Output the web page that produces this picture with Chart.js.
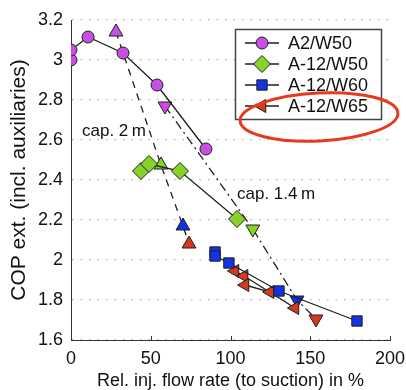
<!DOCTYPE html>
<html>
<head>
<meta charset="utf-8">
<script src="https://cdn.jsdelivr.net/npm/chart.js@4/dist/chart.umd.min.js"></script>
<style>
  body { margin: 0; background: #fff; }
</style>
</head>
<body>
<canvas id="copChart" width="406" height="390"></canvas>
<script>
// valores
const xTicks = [0, 50, 100, 150, 200];
const yTicks = [1.6, 1.8, 2, 2.2, 2.4, 2.6, 2.8, 3, 3.2];

const a2w50X = [0, 0, 10.7, 32.6, 53.9, 84.6];
const a2w50Y = [3.0, 3.05, 3.115, 3.035, 2.875, 2.555];

const a12w50X = [43.9, 48.9, 68.3, 104.1];
const a12w50Y = [2.445, 2.48, 2.445, 2.205];

const a12w60X = [90.3, 90.3, 99, 130.4, 179.3];
const a12w60Y = [2.04, 2.02, 1.985, 1.845, 1.695];

const a12w65X = [102.8, 108.5, 140.4, 124.8, 109.1];
const a12w65Y = [1.945, 1.92, 1.76, 1.84, 1.875];

// capillary 2 m (triangulos arriba) y 1.4 m (triangulos abajo)
const cap2X = [28.2, 56.4, 70.2, 74];
const cap2Y = [3.14, 2.475, 2.17, 2.08];
const cap14X = [58.9, 114, 141.7, 153.6];
const cap14Y = [2.77, 2.155, 1.8, 1.705];

const purple = '#c84fe2';
const green = '#86d42a';
const blue = '#1232e6';
const red = '#d53a1c';
const edge = '#1e1e1e';
const fontName = '"Liberation Sans", Arial, sans-serif';

function pts(xs, ys) {
  return xs.map((x, i) => ({ x: x, y: ys[i] }));
}

function serie(label, xs, ys, color, style, radius, rotation) {
  return {
    label: label,
    data: pts(xs, ys),
    showLine: true,
    borderColor: edge,
    borderWidth: 1.3,
    pointStyle: style,
    pointRadius: radius,
    pointRotation: rotation,
    pointBackgroundColor: color,
    pointBorderColor: edge,
    pointBorderWidth: 1
  };
}

const datasets = [
  serie('A2/W50', a2w50X, a2w50Y, purple, 'circle', 6, 0),
  serie('A-12/W50', a12w50X, a12w50Y, green, 'rectRot', 8.5, 0),
  serie('A-12/W60', a12w60X, a12w60Y, blue, 'rect', 7.3, 0),
  serie('A-12/W65', a12w65X, a12w65Y, red, 'triangle', 7.5, 270),
  {
    label: 'cap. 2 m',
    data: pts(cap2X, cap2Y),
    showLine: true,
    borderColor: edge,
    borderWidth: 1.3,
    borderDash: [7, 6],
    pointStyle: 'triangle',
    pointRadius: 8,
    pointBackgroundColor: [purple, green, blue, red],
    pointBorderColor: edge,
    pointBorderWidth: 1
  },
  {
    label: 'cap. 1.4 m',
    data: pts(cap14X, cap14Y),
    showLine: true,
    borderColor: edge,
    borderWidth: 1.3,
    borderDash: [9, 4, 2, 4],
    pointStyle: 'triangle',
    pointRotation: 180,
    pointRadius: 8,
    pointBackgroundColor: [purple, green, blue, red],
    pointBorderColor: edge,
    pointBorderWidth: 1
  }
];

// leyenda, textos y elipse roja
const extras = {
  id: 'extras',
  afterDraw(chart) {
    const ctx = chart.ctx;
    const xs = chart.scales.x;
    const ys = chart.scales.y;
    ctx.save();

    // ticks hacia dentro en el eje x
    ctx.strokeStyle = '#333';
    ctx.lineWidth = 1;
    xTicks.forEach(v => {
      const px = Math.round(xs.getPixelForValue(v)) + 0.5;
      ctx.beginPath();
      ctx.moveTo(px, ys.bottom);
      ctx.lineTo(px, ys.bottom - 4);
      ctx.stroke();
    });

    // etiquetas cap.
    ctx.fillStyle = '#111';
    ctx.font = '17px ' + fontName;
    ctx.textBaseline = 'middle';
    ctx.textAlign = 'left';
    ctx.fillText('cap. 2\u2009m', 82, 131);
    ctx.fillText('cap. 1.4\u2009m', 237, 194);

    // leyenda
    ctx.fillStyle = '#fff';
    ctx.fillRect(235.5, 29.5, 146, 90);
    ctx.strokeStyle = '#444';
    ctx.lineWidth = 1.5;
    ctx.strokeRect(235.5, 29.5, 146, 90);
    ctx.font = '18px ' + fontName;
    for (let i = 0; i < 4; i++) {
      const ds = datasets[i];
      const y = 43 + i * 21;
      ctx.strokeStyle = edge;
      ctx.lineWidth = 1.3;
      ctx.beginPath();
      ctx.moveTo(245, y);
      ctx.lineTo(279, y);
      ctx.stroke();
      ctx.fillStyle = ds.pointBackgroundColor;
      ctx.lineWidth = 1;
      Chart.helpers.drawPoint(ctx, {
        pointStyle: ds.pointStyle,
        radius: ds.pointRadius,
        rotation: ds.pointRotation,
        borderWidth: 1
      }, 262, y);
      ctx.fillStyle = '#111';
      ctx.fillText(ds.label, 288, y + 1);
    }

    // elipse roja
    ctx.strokeStyle = '#e63a1e';
    ctx.lineWidth = 3;
    ctx.beginPath();
    ctx.ellipse(319, 117, 79, 24, -0.05, 0, Math.PI * 2);
    ctx.stroke();
    ctx.restore();
  }
};

new Chart(document.getElementById('copChart'), {
  type: 'scatter',
  data: { datasets: datasets },
  plugins: [extras],
  options: {
    responsive: false,
    animation: false,
    layout: { padding: { top: 20, right: 16, left: 0, bottom: 0 } },
    plugins: {
      legend: { display: false },
      tooltip: { enabled: false }
    },
    scales: {
      x: {
        type: 'linear',
        min: 0,
        max: 200,
        afterFit: s => { s.height = 50; s.paddingLeft = 0; s.paddingRight = 0; },
        afterBuildTicks: s => { s.ticks = xTicks.map(v => ({ value: v })); },
        ticks: { color: '#111', font: { family: fontName, size: 18 }, padding: 8 },
        grid: { display: false, drawTicks: false },
        border: { color: '#333', width: 1 },
        title: {
          display: true,
          text: 'Rel. inj. flow rate (to suction) in %',
          color: '#111',
          font: { family: fontName, size: 18, lineHeight: 1 },
          padding: { top: 0, bottom: 0 }
        }
      },
      y: {
        min: 1.6,
        max: 3.2,
        afterFit: s => { s.width = 71; },
        afterBuildTicks: s => { s.ticks = yTicks.map(v => ({ value: v })); },
        ticks: {
          color: '#111',
          font: { family: fontName, size: 18 },
          padding: 8,
          callback: v => String(Number(v.toFixed(1)))
        },
        grid: { color: '#b4b4b4', lineWidth: 1.2, drawTicks: false },
        border: { color: '#333', width: 1, dash: [1.5, 7] },
        title: {
          display: true,
          text: 'COP ext. (incl. auxiliaries)',
          color: '#111',
          font: { family: fontName, size: 21 },
          padding: { top: 7, bottom: 0 }
        }
      }
    }
  }
});
</script>
</body>
</html>
